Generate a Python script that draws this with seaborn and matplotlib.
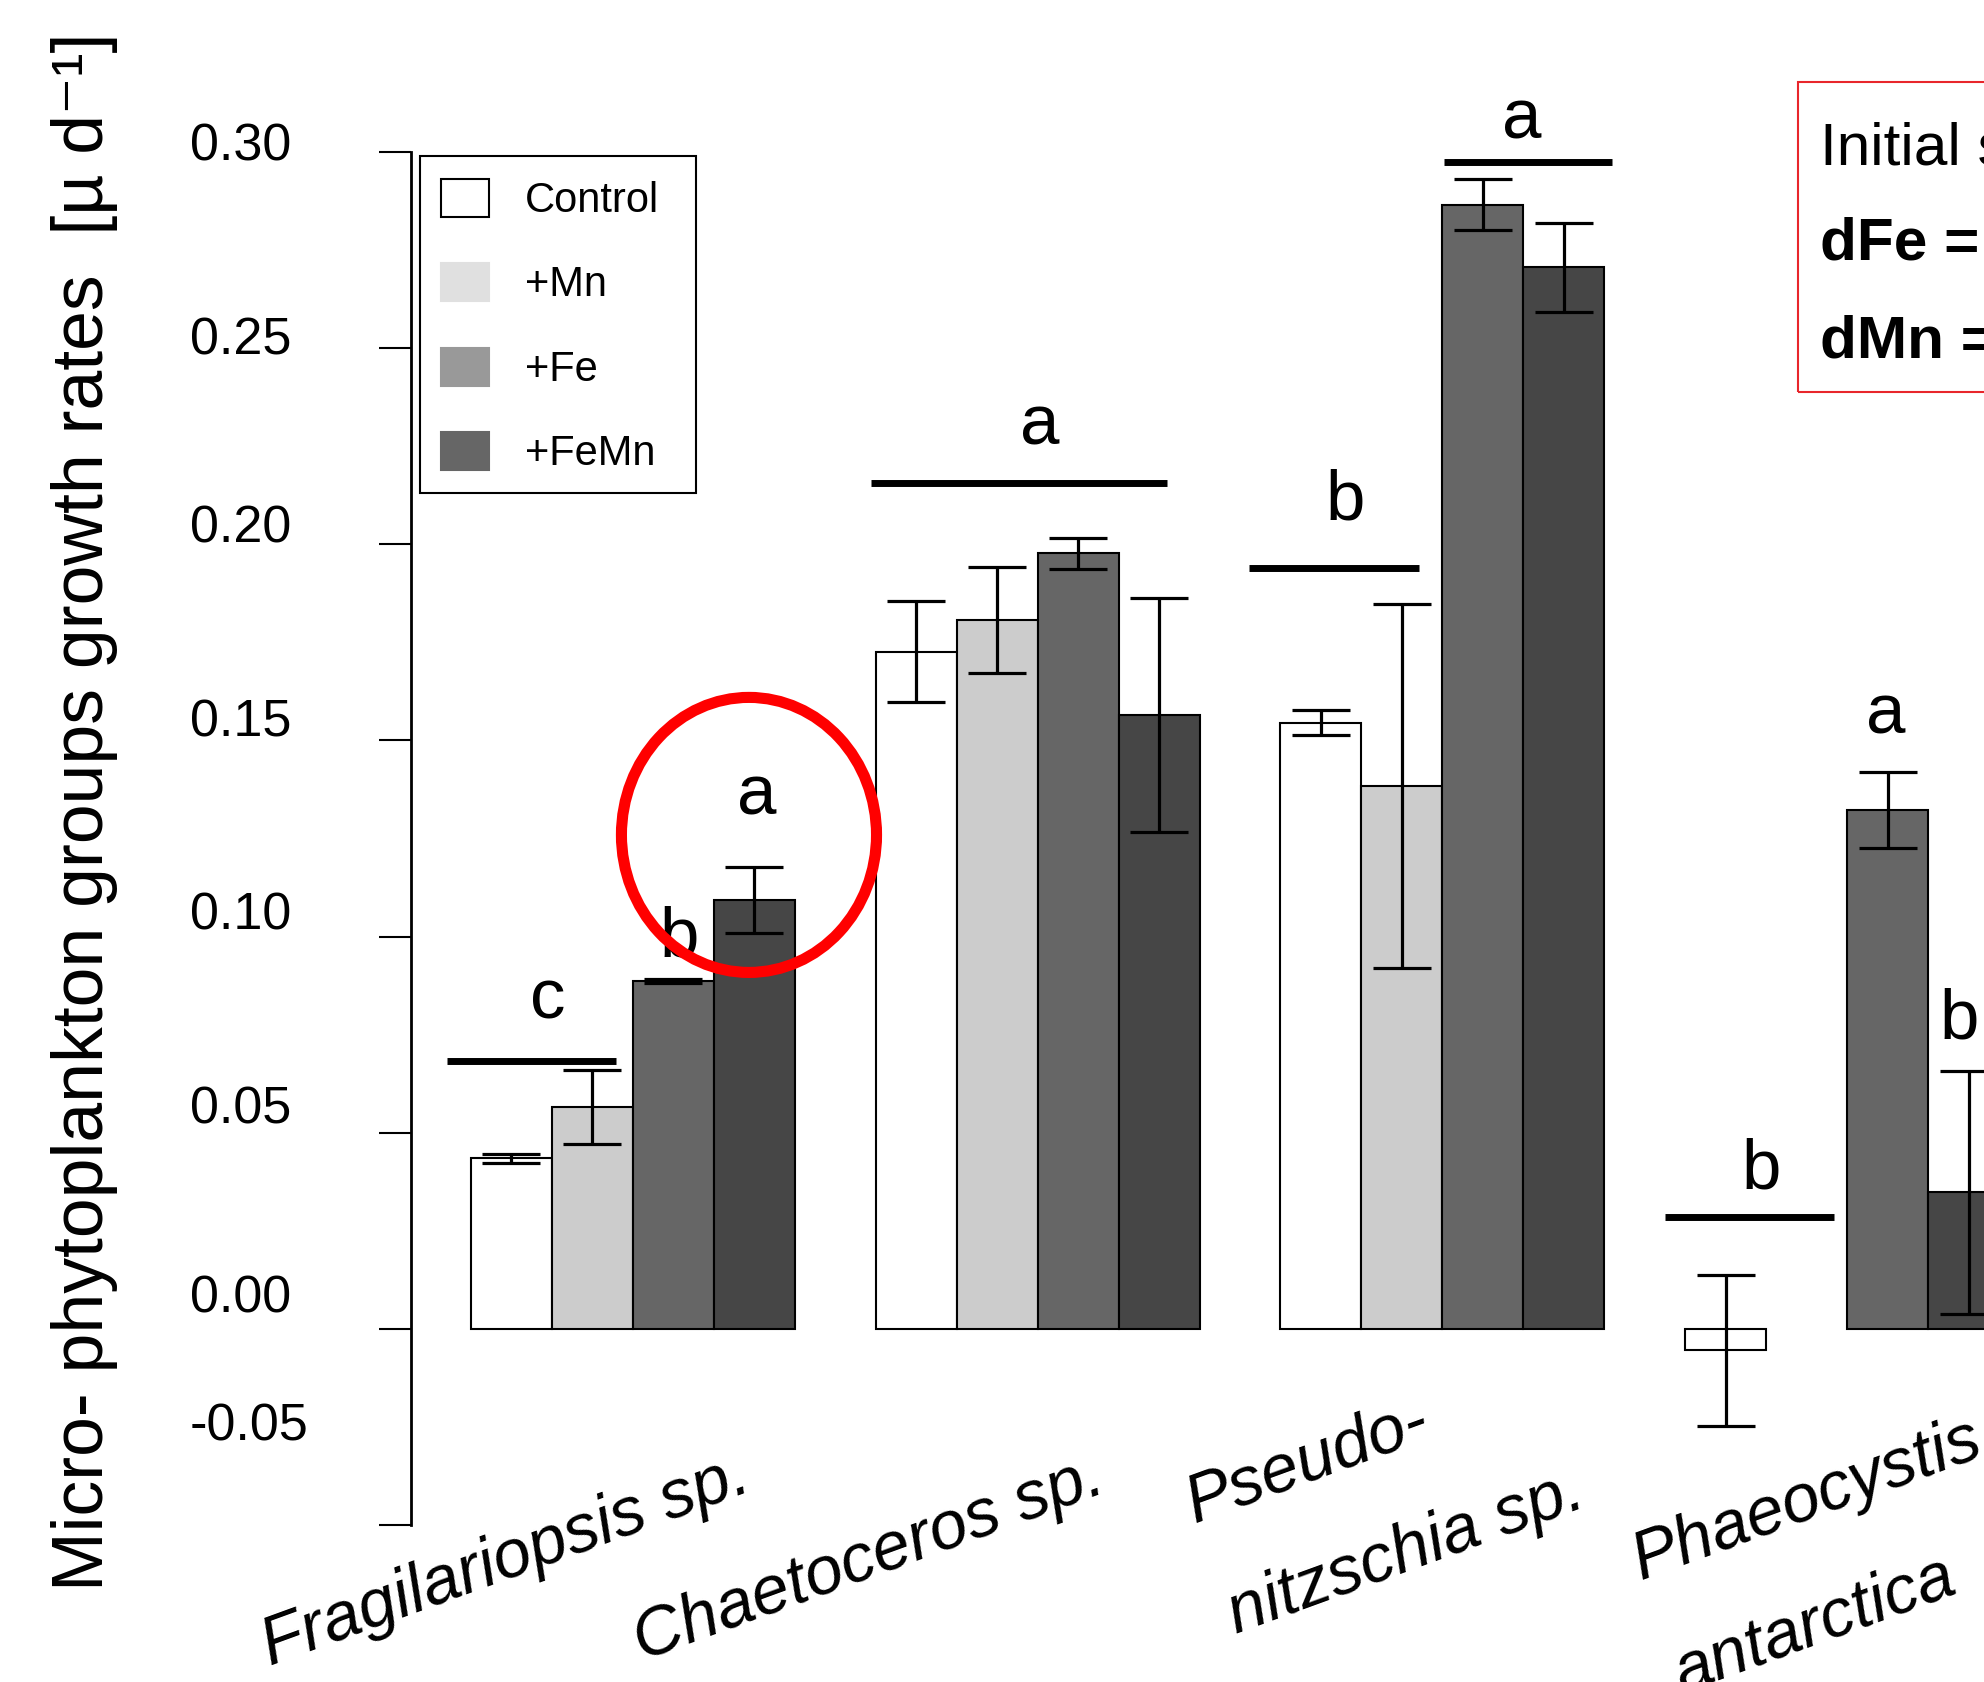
import numpy as np
import pandas as pd
import matplotlib
matplotlib.use("Agg")
import matplotlib.pyplot as plt
import seaborn as sns
from matplotlib.patches import Patch, Ellipse, Rectangle

# phytoplankton groups and nutrient treatments
groups = ["Fragilariopsis sp.", "Chaetoceros sp.", "Pseudo-\nnitzschia sp.",
          "Phaeocystis\nantarctica"]
treatments = ["Control", "+Mn", "+Fe", "+FeMn"]

# growth rates [mu d-1] per treatment, in group order
control = [0.0435, 0.1726, 0.1545, -0.0055]
mn = [0.0565, 0.1806, 0.1384, np.nan]
fe = [0.0887, 0.1977, 0.2865, 0.1323]
femn = [0.1094, 0.1565, 0.2706, 0.0348]

# error bar half widths
control_err = [0.0012, 0.0129, 0.0032, 0.0192]
mn_err = [0.0094, 0.0135, 0.0463, np.nan]
fe_err = [0.0005, 0.0040, 0.0065, 0.0097]
femn_err = [0.0084, 0.0298, 0.0113, 0.0310]

# significance letters (x in group units, y at baseline)
sig_letters = ["c", "b", "a", "a", "b", "a", "b", "a", "b"]
sig_x = [-0.209, 0.116, 0.306, 1.006, 1.759, 2.197, 2.787, 3.094, 3.275]
sig_y = [0.0791, 0.0950, 0.1312, 0.2253, 0.2062, 0.3034, 0.0358, 0.1518,
         0.0739]
# horizontal lines grouping treatments
line_start = [-0.459, 0.5875, 1.522, 2.003, 2.55]
line_end = [-0.041, 1.32, 1.941, 2.419, 2.966]
line_y = [0.0684, 0.2156, 0.1939, 0.2974, 0.0284]

# y axis ticks and where their labels sit
tick_vals = [0.30, 0.25, 0.20, 0.15, 0.10, 0.05, 0.00, -0.05]
tick_label_y = [0.2977, 0.2483, 0.2004, 0.1509, 0.1017, 0.0523, 0.0043,
                -0.0285]

# anchors of the rotated group labels
label_x = [-0.895, 0.023, 1.443, 2.545]
label_y = [-0.0860, -0.0845, -0.0646, -0.0794]

bar_colors = ["white", "#cccccc", "#666666", "#464646"]
legend_colors = ["white", "#e0e0e0", "#999999", "#666666"]

rates = {"Control": control, "+Mn": mn, "+Fe": fe, "+FeMn": femn}
errs = {"Control": control_err, "+Mn": mn_err, "+Fe": fe_err,
        "+FeMn": femn_err}
df = pd.DataFrame(
    [(g, t, rates[t][i], errs[t][i])
     for t in treatments for i, g in enumerate(groups)],
    columns=["group", "treatment", "rate", "err"])

sns.set_theme(style="white")
plt.rcParams["font.family"] = ["Liberation Sans", "DejaVu Sans"]
plt.rcParams["text.color"] = "black"

fig = plt.figure(figsize=(19.84, 16.82), dpi=100)
ax = fig.add_axes([0, 0, 1, 1])

sns.barplot(data=df, x="group", y="rate", hue="treatment", order=groups,
            hue_order=treatments, palette=bar_colors, saturation=1,
            edgecolor="black", linewidth=1.5, errorbar=None, width=0.8,
            legend=False, ax=ax)

# error bars on top of each drawn bar
for bar in ax.patches:
    h = bar.get_height()
    if np.isnan(h):
        continue
    cx = bar.get_x() + bar.get_width() / 2
    g = int(round(cx))
    k = int(round((cx - g + 0.3) / 0.2))
    e = errs[treatments[k]][g]
    ax.errorbar(cx, bar.get_y() + h, yerr=e, color="black", lw=2.3,
                capsize=21, capthick=2.3, zorder=5)

# significance lines and letters
ax.hlines(line_y, line_start, line_end, color="black", lw=5, zorder=5)
for s, x, y in zip(sig_letters, sig_x, sig_y):
    ax.text(x, y, s, ha="center", va="baseline", fontsize=51)

# group labels
for name, x, y in zip(groups, label_x, label_y):
    ax.text(x, y, name, rotation=20, rotation_mode="anchor", ha="left",
            va="baseline", fontsize=49, style="italic", linespacing=2.1)

# axis styling
ax.set_xlim(-1.5625, 3.3375)
ax.set_ylim(-0.09, 0.3387)
ax.set_xlabel("")
ax.set_ylabel("")
ax.set_xticks([])
ax.set_yticks(tick_vals)
ax.tick_params(axis="y", direction="out", length=23, width=1.5,
               color="black", labelleft=False, left=True)
for side in ["top", "right", "bottom"]:
    ax.spines[side].set_visible(False)
ax.spines["left"].set_position(("data", -0.547))
ax.spines["left"].set_bounds(-0.05, 0.30)
ax.spines["left"].set_color("black")
ax.spines["left"].set_linewidth(2)
for v, y in zip(tick_vals, tick_label_y):
    ax.text(-1.0933, y, f"{v:.2f}", ha="left", va="baseline", fontsize=37.5)

fig.text(0.0519, 0.0541, "Micro- phytoplankton groups growth rates  [µ d⁻¹]",
         rotation=90, rotation_mode="anchor", ha="left", va="baseline",
         fontsize=51.5)

# legend with its own lighter swatches and a plain box
handles = [Patch(facecolor=c, edgecolor="black" if c == "white" else c,
                 linewidth=1.5) for c in legend_colors]
fig.legend(handles, treatments, loc="upper left",
           bbox_to_anchor=(420 / 1984, 1 - 158 / 1682), borderaxespad=0,
           frameon=False, fontsize=30, handlelength=1.15,
           handleheight=1.03, handletextpad=0.86, labelspacing=1.01,
           borderpad=0.5)
fig.add_artist(Rectangle((420 / 1984, 1 - 493 / 1682), 276 / 1984,
                         337 / 1682, fill=False, edgecolor="black", lw=1.5,
                         transform=fig.transFigure))

# red highlights
ax.add_patch(Ellipse((0.2873, 0.1259), 0.630, 0.0701, fill=False,
                     edgecolor="red", lw=8, zorder=6))
fig.add_artist(Rectangle((0.9062, 0.7669), 0.2, 0.1843, fill=False,
                         edgecolor="#e8262b", lw=1.5,
                         transform=fig.transFigure))
fig.text(0.9171, 1 - 164.5 / 1682, "Initial s", fontsize=43.5,
         va="baseline")
fig.text(0.9171, 1 - 259 / 1682, "dFe =", fontsize=43.5, weight="bold",
         va="baseline")
fig.text(0.9171, 1 - 358 / 1682, "dMn =", fontsize=43.5, weight="bold",
         va="baseline")

fig.savefig("out.png", dpi=100)
